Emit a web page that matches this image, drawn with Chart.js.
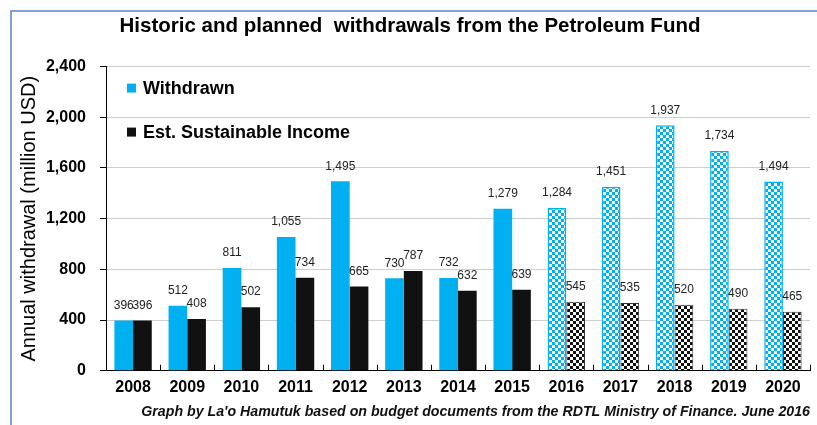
<!DOCTYPE html>
<html>
<head>
<meta charset="utf-8">
<title>Petroleum Fund withdrawals</title>
<script src="https://cdn.jsdelivr.net/npm/chart.js@4.4.0/dist/chart.umd.min.js"></script>
<style>
  body { margin: 0; background: #fff; }
  canvas { display: block; }
</style>
</head>
<body>
<canvas id="withdrawals-chart" width="817" height="425"></canvas>
<script>
// values (million USD)
const years = ['2008', '2009', '2010', '2011', '2012', '2013', '2014', '2015', '2016', '2017', '2018', '2019', '2020'];
const withdrawn = [396, 512, 811, 1055, 1495, 730, 732, 1279, 1284, 1451, 1937, 1734, 1494];
const sustainableIncome = [396, 408, 502, 734, 665, 787, 632, 639, 545, 535, 520, 490, 465];
const yTickValues = [0, 400, 800, 1200, 1600, 2000, 2400];
const firstPlanned = 8; // 2016 onwards are budget plans, drawn checkered

const FONT = "'Liberation Sans', Arial, sans-serif";
const CYAN = '#00B0F0';
const BLACK = '#111111';

function checker(color) {
  const c = document.createElement('canvas');
  c.width = 6;
  c.height = 6;
  const g = c.getContext('2d');
  g.fillStyle = '#ffffff';
  g.fillRect(0, 0, 6, 6);
  g.fillStyle = color;
  g.fillRect(0, 0, 3, 3);
  g.fillRect(3, 3, 3, 3);
  return g.createPattern(c, 'repeat');
}

const cyanChecker = checker(CYAN);
const blackChecker = checker(BLACK);

// thin blue frame round the picture (only top and left show)
const framePlugin = {
  id: 'frame',
  beforeDraw(chart) {
    const ctx = chart.ctx;
    ctx.save();
    ctx.strokeStyle = '#7FA3D6';
    ctx.lineWidth = 2;
    ctx.beginPath();
    ctx.moveTo(11, chart.height);
    ctx.lineTo(11, 11);
    ctx.lineTo(chart.width, 11);
    ctx.stroke();
    ctx.restore();
  }
};

// short upward ticks between the year groups
const xTickPlugin = {
  id: 'xTicks',
  afterDatasetsDraw(chart) {
    const ctx = chart.ctx;
    const x = chart.scales.x;
    const bottom = chart.chartArea.bottom;
    ctx.save();
    ctx.strokeStyle = '#000';
    ctx.lineWidth = 1;
    for (let i = 0; i <= years.length; i++) {
      const px = Math.round(x.getPixelForValue(i - 0.5)) + 0.5;
      ctx.beginPath();
      ctx.moveTo(px, bottom);
      ctx.lineTo(px, bottom - 6);
      ctx.stroke();
    }
    ctx.restore();
  }
};

const valueLabels = {
  id: 'valueLabels',
  afterDatasetsDraw(chart) {
    const ctx = chart.ctx;
    ctx.save();
    ctx.font = '12px ' + FONT;
    ctx.fillStyle = '#222';
    ctx.textAlign = 'center';
    ctx.textBaseline = 'middle';
    chart.data.datasets.forEach((ds, di) => {
      chart.getDatasetMeta(di).data.forEach((bar, i) => {
        ctx.fillText(ds.data[i].toLocaleString('en-US'), bar.x, bar.y - 15);
      });
    });
    ctx.restore();
  }
};

// legend sits inside the plot, stacked, top-left
const insideLegend = {
  id: 'insideLegend',
  afterDraw(chart) {
    const ctx = chart.ctx;
    const area = chart.chartArea;
    ctx.save();
    ctx.font = 'bold 18px ' + FONT;
    ctx.textBaseline = 'middle';
    chart.data.datasets.forEach((ds, di) => {
      const y = area.top + 21 + di * 44;
      ctx.fillStyle = ds.legendColor;
      ctx.fillRect(area.left + 21, y - 4, 9, 9);
      ctx.fillStyle = '#000';
      ctx.fillText(ds.label, area.left + 37, y + 1);
    });
    ctx.restore();
  }
};

new Chart(document.getElementById('withdrawals-chart'), {
  type: 'bar',
  data: {
    labels: years,
    datasets: [{
      label: 'Withdrawn',
      data: withdrawn,
      legendColor: CYAN,
      backgroundColor: c => c.dataIndex >= firstPlanned ? cyanChecker : CYAN,
      borderColor: CYAN,
      borderWidth: c => c.dataIndex >= firstPlanned ? 1.5 : 0,
      categoryPercentage: 0.69,
      barPercentage: 1.0
    }, {
      label: 'Est. Sustainable Income',
      data: sustainableIncome,
      legendColor: BLACK,
      backgroundColor: c => c.dataIndex >= firstPlanned ? blackChecker : BLACK,
      borderColor: '#333',
      borderWidth: c => c.dataIndex >= firstPlanned ? 1 : 0,
      categoryPercentage: 0.69,
      barPercentage: 1.0
    }]
  },
  options: {
    responsive: false,
    animation: false,
    layout: {
      padding: { left: 10, right: 7, top: 0, bottom: 0 }
    },
    plugins: {
      legend: { display: false },
      tooltip: { enabled: false },
      title: {
        display: true,
        text: 'Historic and planned  withdrawals from the Petroleum Fund',
        color: '#000',
        font: { family: FONT, size: 20.5, weight: 'bold' },
        padding: { top: 14, bottom: 28 }
      },
      subtitle: {
        display: true,
        position: 'bottom',
        align: 'end',
        text: "Graph by La'o Hamutuk based on budget documents from the RDTL Ministry of Finance. June 2016",
        color: '#111',
        font: { family: FONT, size: 14.2, weight: 'bold', style: 'italic' },
        padding: { top: 0, bottom: 4 }
      }
    },
    scales: {
      x: {
        afterFit: axis => {
          axis.paddingRight = 0;
        },
        grid: { display: false, drawTicks: false },
        border: { display: true, color: '#000', width: 1 },
        ticks: {
          color: '#000',
          padding: 7,
          font: { family: FONT, size: 16, weight: 'bold' }
        }
      },
      y: {
        min: 0,
        max: 2400,
        afterBuildTicks: axis => {
          axis.ticks = yTickValues.map(v => ({ value: v }));
        },
        afterFit: axis => {
          axis.width = 96;
        },
        grid: {
          color: '#CFCFCF',
          borderDash: [5, 4],
          tickColor: '#000',
          tickBorderDash: [],
          tickLength: 6
        },
        border: { display: true, color: '#000', width: 1 },
        ticks: {
          color: '#000',
          padding: 14,
          font: { family: FONT, size: 16, weight: 'bold' },
          callback: v => v.toLocaleString('en-US')
        },
        title: {
          display: true,
          text: 'Annual withdrawal (million USD)',
          color: '#000',
          font: { family: FONT, size: 20 },
          padding: { top: 7, bottom: 0 }
        }
      }
    }
  },
  plugins: [framePlugin, xTickPlugin, valueLabels, insideLegend]
});
</script>
</body>
</html>
